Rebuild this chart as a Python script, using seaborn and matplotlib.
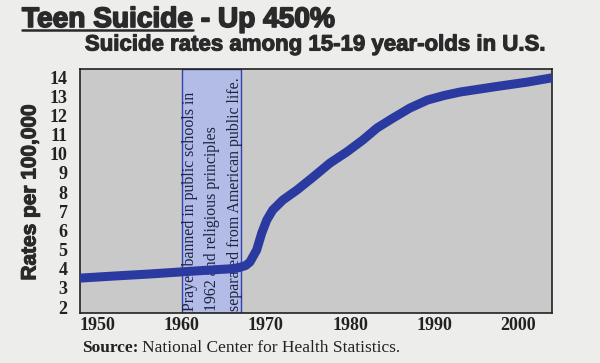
import matplotlib
matplotlib.use("Agg")
import matplotlib.pyplot as plt
import matplotlib.patheffects as pe
import seaborn as sns
import pandas as pd

# data
years = [1947.9, 1952, 1956, 1959.8, 1964, 1966.0, 1966.9, 1967.6, 1968.1, 1968.9,
         1969.5, 1970.1, 1970.8, 1972.0, 1973.7, 1975.6, 1977.6, 1979.6, 1981.5,
         1983.2, 1985.1, 1987.1, 1989.2, 1991.2, 1993.1, 1997.0, 2001.1, 2004.0]
rates = [3.51, 3.62, 3.72, 3.83, 3.95, 4.0, 4.07, 4.17, 4.35, 4.98,
         5.86, 6.54, 7.06, 7.58, 8.11, 8.78, 9.51, 10.09, 10.71,
         11.34, 11.86, 12.38, 12.80, 13.04, 13.22, 13.48, 13.74, 13.96]
band_years = (1960, 1967)
ytick_vals = list(range(2, 15))
xtick_vals = [1950, 1960, 1970, 1980, 1990, 2000]
note_lines = ["Prayer banned in public schools in",
              "1962 and religious principles",
              "separated from American public life."]

df = pd.DataFrame({"year": years, "rate": rates})

sns.set_theme(style="white")
paper = "#ededeb"
ink = "#2a2a2a"
fig = plt.figure(figsize=(6, 3.63), dpi=100, facecolor=paper)
ax = fig.add_axes([80 / 600, 1 - 313 / 363, 472 / 600, 244 / 363])
ax.set_facecolor("#c9c9c9")

# shaded band for 1960s
ax.axvspan(band_years[0], band_years[1], facecolor="#b3bce6", edgecolor="#3342b0",
           lw=1.0, zorder=1)
sns.lineplot(data=df, x="year", y="rate", ax=ax, color="#2b3aa0", lw=6.5,
             solid_capstyle="butt", solid_joinstyle="round", zorder=3)

ax.set_xlim(1947.9, 2004.0)
ax.set_ylim(1.69, 14.42)
ax.set_xticks(xtick_vals)
ax.set_yticks(ytick_vals)
ax.tick_params(length=0, pad=3)
for lab in ax.get_xticklabels() + ax.get_yticklabels():
    lab.set_family("Liberation Serif")
    lab.set_fontweight("bold")
    lab.set_fontsize(13)
    lab.set_color("#222222")
ax.tick_params(axis="y", pad=9)
ax.set_xlabel("")
ax.set_ylabel("")
for s in ax.spines.values():
    s.set_color("#222222")
    s.set_linewidth(1.2)
    s.set_visible(True)

# rotated note inside the band
xs = [1961.0, 1963.6, 1966.3]
for x, line in zip(xs, note_lines):
    ax.text(x, 1.8, line, rotation=90, ha="center", va="bottom",
            family="Liberation Serif", fontsize=11.4, color="#1d2340", zorder=2)

# titles
heavy = [pe.withStroke(linewidth=1.2, foreground=ink)]
t = fig.text(22 / 600, 1 - 27 / 363, "Teen Suicide", family="Liberation Sans",
             fontweight="bold", fontsize=20.2, color=ink, va="baseline", ha="left",
             path_effects=heavy)
fig.canvas.draw()
bb = t.get_window_extent()
fig.text(bb.x1 / 600, 1 - 27 / 363, " - Up 450%", family="Liberation Sans",
         fontweight="bold", fontsize=20.2, color=ink, va="baseline", ha="left",
         path_effects=heavy)
fig.add_artist(plt.Line2D([bb.x0 / 600, bb.x1 / 600], [1 - 30 / 363] * 2,
                          color=ink, lw=1.8))
fig.text(315 / 600, 1 - 45 / 363, "Suicide rates among 15-19 year-olds in U.S.",
         family="Liberation Sans", fontweight="bold", fontsize=16, color=ink,
         ha="center", va="center", path_effects=[pe.withStroke(linewidth=0.8, foreground=ink)])
fig.text(30 / 600, 1 - 192 / 363, "Rates per 100,000", family="Liberation Sans",
         fontweight="bold", fontsize=15, color=ink, rotation=90,
         ha="center", va="center", path_effects=[pe.withStroke(linewidth=0.8, foreground=ink)])

s1 = fig.text(82 / 600, 1 - 348 / 363, "Source:", family="Liberation Serif",
              fontweight="bold", fontsize=12.5, color="#222222", va="center")
fig.canvas.draw()
b1 = s1.get_window_extent()
fig.text(b1.x1 / 600 + 0.006, 1 - 348 / 363, "National Center for Health Statistics.",
         family="Liberation Serif", fontsize=12.5, color="#222222", va="center")

fig.savefig("out.png", dpi=100, facecolor=paper)
